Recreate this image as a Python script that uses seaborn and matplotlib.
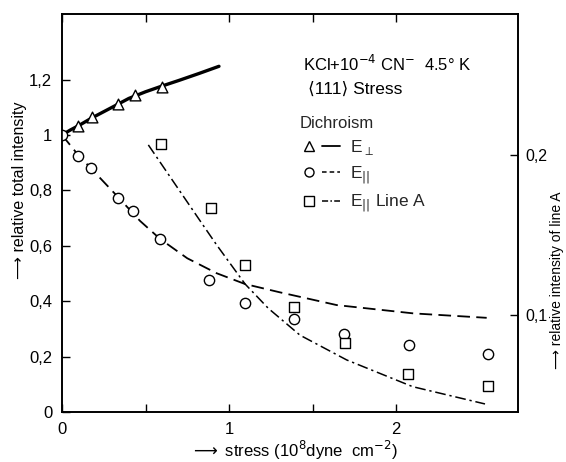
import numpy as np
import pandas as pd
import matplotlib
matplotlib.use("Agg")
import matplotlib.pyplot as plt
import seaborn as sns
from matplotlib.lines import Line2D
from matplotlib.legend_handler import HandlerTuple

# ---------------- data ----------------
# E_perp (triangles), left axis
perp_x = [0.094, 0.178, 0.337, 0.435, 0.597]
perp_y = [1.032, 1.064, 1.111, 1.144, 1.174]
# E_par (circles), left axis
par_x = [0.0, 0.094, 0.176, 0.337, 0.423, 0.585, 0.882, 1.094, 1.389, 1.690, 2.078, 2.553]
par_y = [1.0, 0.924, 0.880, 0.773, 0.724, 0.625, 0.477, 0.392, 0.335, 0.281, 0.242, 0.209]
# E_par line A (squares), right axis
lineA_x = [0.593, 0.890, 1.094, 1.389, 1.695, 2.074, 2.553]
lineA_y = [0.2067, 0.1667, 0.131, 0.105, 0.0827, 0.0631, 0.0556]

# guide curves
perp_curve_x = [0.0, 0.05, 0.10, 0.18, 0.30, 0.40, 0.50, 0.60, 0.70, 0.82, 0.94]
perp_curve_y = [1.0, 1.018, 1.034, 1.062, 1.100, 1.132, 1.156, 1.177, 1.197, 1.222, 1.248]
par_curve_x = [0.0, 0.094, 0.176, 0.337, 0.467, 0.587, 0.75, 0.926, 1.096, 1.305, 1.645, 2.104, 2.543]
par_curve_y = [1.0, 0.930, 0.878, 0.775, 0.690, 0.625, 0.555, 0.501, 0.462, 0.432, 0.386, 0.356, 0.340]
lineA_curve_x = [0.517, 0.826, 0.926, 1.096, 1.235, 1.425, 1.705, 2.10, 2.533]
lineA_curve_y = [0.2063, 0.159, 0.1438, 0.1194, 0.1042, 0.0874, 0.0719, 0.0552, 0.0444]

left_ticks = [0, 0.2, 0.4, 0.6, 0.8, 1.0, 1.2]
left_ticklabels = ["0", "0,2", "0,4", "0,6", "0,8", "1", "1,2"]
right_ticks = [0.1, 0.2]
right_ticklabels = ["0,1", "0,2"]
x_ticks = [0, 0.5, 1, 1.5, 2]
x_ticklabels = ["0", "", "1", "", "2"]

# ---------------- style ----------------
sns.set_theme(style="white")
plt.rcParams["font.family"] = ["Liberation Sans", "DejaVu Sans"]
plt.rcParams["mathtext.fontset"] = "dejavusans"

W, H = 566, 462
fig = plt.figure(figsize=(W / 100, H / 100), dpi=100)
L, R, B, T = 62, 518, 412, 14
ax = fig.add_axes([L / W, 1 - B / H, (R - L) / W, (B - T) / H])
ax2 = ax.twinx()

k = "black"
# curves
sns.lineplot(x=perp_curve_x, y=perp_curve_y, ax=ax, color=k, lw=2.4, estimator=None, sort=False)
sns.lineplot(x=par_curve_x, y=par_curve_y, ax=ax, color=k, lw=1.3, estimator=None, sort=False,
             linestyle=(0, (7, 3.5)))
sns.lineplot(x=lineA_curve_x, y=lineA_curve_y, ax=ax2, color=k, lw=1.1, estimator=None, sort=False,
             linestyle=(0, (7, 2.5, 1.5, 2.5)))

# points
sns.scatterplot(x=perp_x, y=perp_y, ax=ax, marker="^", s=60, facecolor="white",
                edgecolor=k, linewidth=1.0, zorder=5)
sns.scatterplot(x=par_x, y=par_y, ax=ax, marker="o", s=55, facecolor="white",
                edgecolor=k, linewidth=1.0, zorder=5)
sns.scatterplot(x=lineA_x, y=lineA_y, ax=ax2, marker="s", s=42, facecolor="white",
                edgecolor=k, linewidth=1.0, zorder=5)

# axes limits
ax.set_xlim(0, (R - L) / 167.0)
ax.set_ylim(0, (B - T) / 277.0)
ax2.set_ylim(0.1 + (315 - B) / 1600.0, 0.1 + (315 - T) / 1600.0)

# ticks
ax.set_xticks(x_ticks)
ax.set_xticklabels(x_ticklabels)
ax.set_yticks(left_ticks)
ax.set_yticklabels(left_ticklabels)
ax2.set_yticks(right_ticks)
ax2.set_yticklabels(right_ticklabels)
ax.tick_params(axis="both", direction="in", length=6, width=1.0, colors=k,
               labelsize=12, pad=7, top=True, bottom=True, left=True, right=False)
ax.tick_params(axis="x", labeltop=False)
ax2.tick_params(axis="y", direction="in", length=6, width=1.0, colors=k,
                labelsize=11.5, pad=5)
for a in (ax, ax2):
    for s in a.spines.values():
        s.set_color(k)
        s.set_linewidth(1.2)
ax.set_xlabel("")
ax.set_ylabel("")
ax2.set_ylabel("")

# texts
def axc(px, py):
    return ((px - L) / (R - L), (B - py) / (B - T))

x0, y0 = axc(303, 64)
ax.text(x0, y0, "KCl+10$^{-4}$ CN$^{-}$  4.5° K", transform=ax.transAxes,
        fontsize=12, va="center", ha="left", color=k)
x0, y0 = axc(308, 89)
ax.text(x0, y0, "⟨111⟩ Stress", transform=ax.transAxes,
        fontsize=12.5, va="center", ha="left", color=k)

# legend
h_perp = (Line2D([], [], marker="^", ms=7, mfc="white", mec=k, ls="none"),
          Line2D([], [], color=k, lw=1.3))
h_par = (Line2D([], [], marker="o", ms=6.5, mfc="white", mec=k, ls="none"),
         Line2D([], [], color=k, lw=1.1, ls=(0, (3, 2))))
h_A = (Line2D([], [], marker="s", ms=6.5, mfc="white", mec=k, ls="none"),
       Line2D([], [], color=k, lw=1.1, ls=(0, (4, 1.5, 1, 1.5))))
lx, ly = axc(300, 116)
leg = ax.legend([h_perp, h_par, h_A],
                ["E$_{\\perp}$", "E$_{||}$", "E$_{||}$ Line A"],
                handler_map={tuple: HandlerTuple(ndivide=2, pad=0.25)},
                loc="upper left", bbox_to_anchor=(lx, ly), frameon=False,
                fontsize=12.5, title="Dichroism", title_fontsize=12,
                handlelength=2.3, handletextpad=0.6, labelspacing=0.42,
                borderpad=0.0, borderaxespad=0.0, alignment="left")

# axis labels
fig.text(294 / W, 1 - 450 / H, "$\\longrightarrow$ stress (10$^{8}$dyne  cm$^{-2}$)", fontsize=12,
         ha="center", va="center", color=k)
fig.text(20 / W, 1 - 190 / H, "⟶ relative total intensity", fontsize=11.5,
         rotation=90, ha="center", va="center", color=k)
fig.text(557 / W, 1 - 280 / H, "⟶ relative intensity of line A", fontsize=10,
         rotation=90, ha="center", va="center", color=k)

fig.savefig("out.png", dpi=100)
